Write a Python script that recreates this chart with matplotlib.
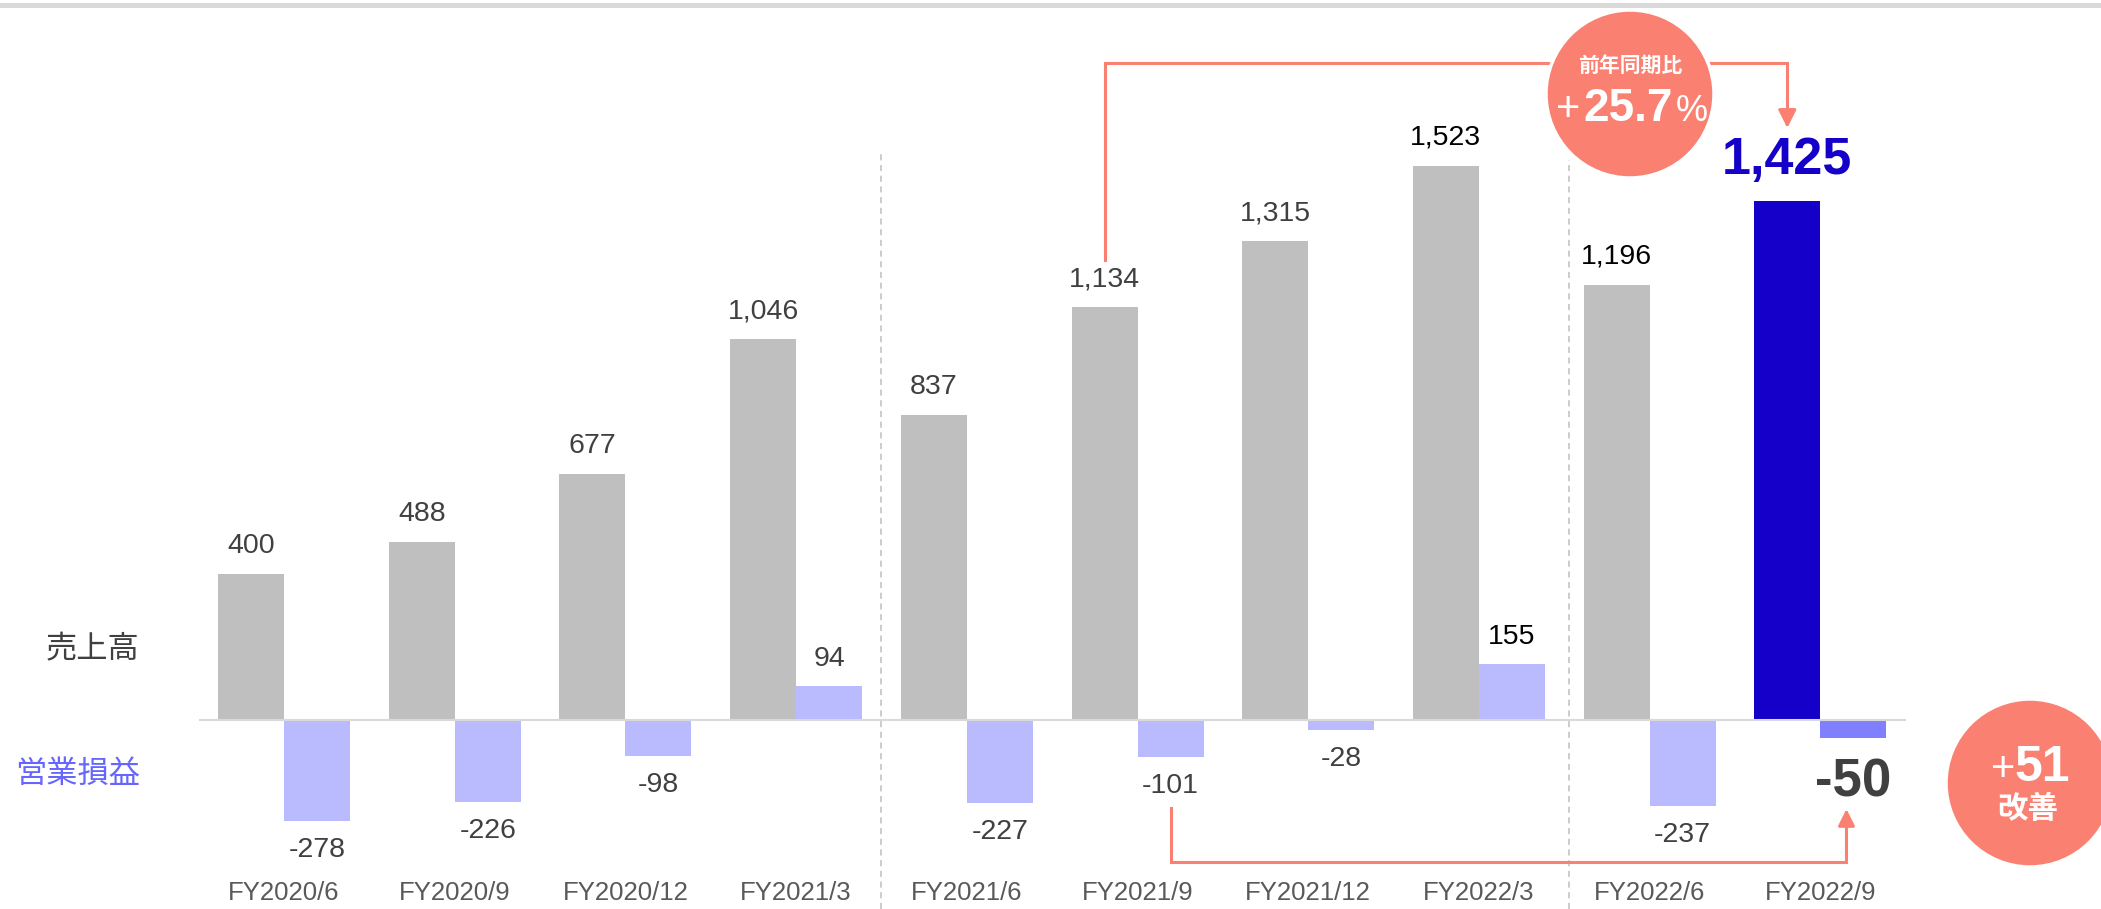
import numpy as np
import matplotlib
matplotlib.use("Agg")
import matplotlib.pyplot as plt
from matplotlib.patches import Ellipse
from matplotlib.lines import Line2D

plt.rcParams['font.family'] = ['Liberation Sans', 'Noto Sans CJK JP']

# quarterly figures (百万円)
periods = ['FY2020/6', 'FY2020/9', 'FY2020/12', 'FY2021/3',
           'FY2021/6', 'FY2021/9', 'FY2021/12', 'FY2022/3',
           'FY2022/6', 'FY2022/9']
sales = [400, 488, 677, 1046, 837, 1134, 1315, 1523, 1196, 1425]
op_income = [-278, -226, -98, 94, -227, -101, -28, 155, -237, -50]
yoy_growth = 25.7
op_improve = 51

W, H = 2101, 909
GROUP_PX = 170.7          # pixels per category
X0_PX = 284               # pixel x of first category
BASE_PX = 720             # pixel y of zero line
UNIT_PX = 0.364           # pixels per unit value

SALMON = '#fa8072'
DARK = '#404040'

fig = plt.figure(figsize=(W / 100, H / 100), dpi=100)
ax = fig.add_axes([0, 0, 1, 1])
ax.set_xlim(-X0_PX / GROUP_PX, (W - X0_PX) / GROUP_PX)
ax.set_ylim(-(H - BASE_PX) / UNIT_PX, BASE_PX / UNIT_PX)
ax.axis('off')


def px(x, y):
    """pixel position -> data coords"""
    return (x - X0_PX) / GROUP_PX, (BASE_PX - y) / UNIT_PX


x = np.arange(len(periods))
w = 66 / GROUP_PX
n = len(periods)

sales_colors = ['#bfbfbf'] * (n - 1) + ['#1400c8']
op_colors = ['#babaff'] * (n - 1) + ['#8080ff']
ax.bar(x - w / 2, sales, width=w, color=sales_colors, zorder=2)
ax.bar(x + w / 2, op_income, width=w, color=op_colors, zorder=2)

# zero line
ax.hlines(0, -0.5, n - 0.5, color='#d9d9d9', lw=1.5, zorder=3)

# fiscal year separators
ax.vlines(3.5, px(0, 909)[1], px(0, 150)[1], color='#bfbfbf', lw=1.1,
          linestyles=(0, (4, 3)), zorder=1)
ax.vlines(7.53, px(0, 909)[1], px(0, 160)[1], color='#bfbfbf', lw=1.1,
          linestyles=(0, (4, 3)), zorder=1)

# value labels
for i in range(n - 1):
    c = 'black' if i in (7, 8) else DARK
    ax.annotate(f'{sales[i]:,}', (x[i] - w / 2, sales[i]), xytext=(0, 28),
                textcoords='offset pixels', ha='center', va='center',
                fontsize=20.5, color=c)
    v = op_income[i]
    c = 'black' if i == 7 else DARK
    ax.annotate(f'{v:,}', (x[i] + w / 2, v), xytext=(0, 27 if v > 0 else -29),
                textcoords='offset pixels', ha='center', va='center',
                fontsize=20.5, color=c)

ax.annotate(f'{sales[-1]:,}', (x[-1] - w / 2, sales[-1]), xytext=(0, 41),
            textcoords='offset pixels', ha='center', va='center',
            fontsize=37.5, fontweight='bold', color='#1400c8')
ax.annotate(f'{op_income[-1]:,}', (x[-1] + w / 2, op_income[-1]), xytext=(0, -44),
            textcoords='offset pixels', ha='center', va='center',
            fontsize=38, fontweight='bold', color=DARK)

# category labels
for i, p in enumerate(periods):
    ax.text(x[i], px(0, 893)[1], p, ha='center', va='center',
            fontsize=18.5, color='#595959')

# series labels
ax.text(*px(139, 650), '売上高', ha='right', va='center', fontsize=22.5, color=DARK)
ax.text(*px(140, 775), '営業損益', ha='right', va='center', fontsize=22.5, color='#6666ff')

# top rule
fig.add_artist(Line2D([0, 1], [1 - 4.5 / H] * 2, color='#d9d9d9', lw=3.6))

# YoY arrow between sales bars
xs0, xs1 = x[5] - w / 2, x[9] - w / 2
y_top = px(0, 63)[1]
ax.plot([xs0, xs0, xs1, xs1], [px(0, 260)[1], y_top, y_top, px(0, 115)[1]],
        color=SALMON, lw=2.2, solid_joinstyle='miter', zorder=4)
ax.annotate('', xy=(xs1, px(0, 128)[1]), xytext=(xs1, px(0, 110)[1]),
            arrowprops=dict(arrowstyle='-|>', color=SALMON, lw=2.2,
                            mutation_scale=27, shrinkA=0, shrinkB=0), zorder=4)

# improvement arrow between operating income bars
xo0, xo1 = x[5] + w / 2, x[9] + w / 2 - 0.04
y_bot = px(0, 862)[1]
ax.plot([xo0, xo0, xo1, xo1], [px(0, 808)[1], y_bot, y_bot, px(0, 822)[1]],
        color=SALMON, lw=2.2, solid_joinstyle='miter', zorder=4)
ax.annotate('', xy=(xo1, px(0, 809)[1]), xytext=(xo1, px(0, 828)[1]),
            arrowprops=dict(arrowstyle='-|>', color=SALMON, lw=2.2,
                            mutation_scale=25, shrinkA=0, shrinkB=0), zorder=4)

# badges
r = 84
for cx, cy in [(1630, 94), (2030, 783)]:
    ax.add_patch(Ellipse(px(cx, cy), 2 * r / GROUP_PX, 2 * r / UNIT_PX,
                         facecolor=SALMON, edgecolor='white', lw=2.5, zorder=6))

ax.text(*px(1630, 66), '前年同期比', ha='center', va='center', fontsize=15,
        fontweight='bold', color='white', zorder=7)
ax.text(*px(1628, 121), f'{yoy_growth}', ha='center', va='baseline', fontsize=33,
        fontweight='bold', color='white', zorder=7)
ax.text(*px(1580, 121), '+', ha='right', va='baseline', fontsize=30,
        color='white', zorder=7)
ax.text(*px(1676, 121), '%', ha='left', va='baseline', fontsize=26,
        color='white', zorder=7)

ax.text(*px(2042, 781), f'{op_improve}', ha='center', va='baseline', fontsize=36,
        fontweight='bold', color='white', zorder=7)
ax.text(*px(2015, 781), '+', ha='right', va='baseline', fontsize=30,
        color='white', zorder=7)
ax.text(*px(2028, 810), '改善', ha='center', va='center', fontsize=22,
        fontweight='bold', color='white', zorder=7)

fig.savefig('out.png', dpi=100, facecolor='white')
